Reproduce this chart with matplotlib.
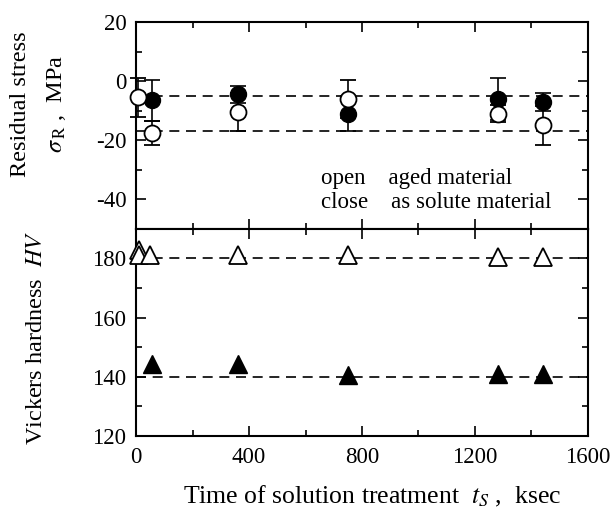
import matplotlib.pyplot as plt
from matplotlib.ticker import MultipleLocator

plt.rcParams['font.family'] = ['Liberation Serif', 'DejaVu Serif']
plt.rcParams['mathtext.fontset'] = 'stix'

# residual stress, open = aged, filled = as solute
t_open = [8, 55, 360, 750, 1280, 1440]
s_open = [-5.5, -17.5, -10.5, -6, -11, -15]
e_open = [6.5, 4, 6.5, 6.5, 3, 6.5]
t_fill = [55, 360, 750, 1280, 1440]
s_fill = [-6.5, -4.5, -11, -6, -7]
e_fill = [7, 3, 6, 7, 3]
s_lines = [-5, -17]

# hardness
t_hv_open = [10, 10, 50, 360, 750, 1280, 1440]
hv_open = [183, 181, 181, 181, 181, 180.5, 180.5]
t_hv_fill = [55, 360, 750, 1280, 1440]
hv_fill = [144.5, 144.5, 140.5, 141, 141]
hv_lines = [180, 140]

fig = plt.figure(figsize=(6.13, 5.13), dpi=100)
ax1 = fig.add_axes([0.222, 0.554, 0.737, 0.403])
ax2 = fig.add_axes([0.222, 0.150, 0.737, 0.404])

for ax in (ax1, ax2):
    ax.set_xlim(0, 1600)
    ax.xaxis.set_major_locator(MultipleLocator(400))
    ax.xaxis.set_minor_locator(MultipleLocator(200))
    ax.yaxis.set_minor_locator(MultipleLocator(10))
    ax.tick_params(which='both', direction='in', top=True, right=True,
                   width=1.2, labelsize=16.5)
    ax.tick_params(which='major', length=7)
    ax.tick_params(which='minor', length=4)
    ax.tick_params(axis='y', pad=7)
    ax.tick_params(axis='x', pad=8)
    for sp in ax.spines.values():
        sp.set_linewidth(1.5)

dash = dict(color='black', lw=1.2, ls=(0, (6, 4)), zorder=1)

ax1.set_ylim(-50, 20)
ax1.set_yticks([20, 0, -20, -40])
ax1.set_yticklabels(['20', '0', '-20', '-40'])
ax1.tick_params(axis='x', labelbottom=False)
for v in s_lines:
    ax1.axhline(v, **dash)
eb = ax1.errorbar(t_fill, s_fill, yerr=e_fill, fmt='o', color='black', mfc='black',
                  ms=11.5, capsize=6, elinewidth=1.2, capthick=1.2, zorder=3)
eb[0].set_clip_on(False)
eb = ax1.errorbar(t_open, s_open, yerr=e_open, fmt='o', color='black', mfc='white',
                  mew=1.3, ms=11.5, capsize=6, elinewidth=1.2, capthick=1.2, zorder=4)
eb[0].set_clip_on(False)
for c in eb[1]:
    c.set_clip_on(False)
ax1.text(0.41, 0.215, 'open    aged material', transform=ax1.transAxes,
         fontsize=16.5, va='baseline')
ax1.text(0.41, 0.10, 'close    as solute material', transform=ax1.transAxes,
         fontsize=16.5, va='baseline')

ax2.set_ylim(120, 190)
ax2.set_yticks([120, 140, 160, 180])
for v in hv_lines:
    ax2.axhline(v, **dash)
ax2.plot(t_hv_fill, hv_fill, '^', color='black', ms=12.5, zorder=3, clip_on=False)
ax2.plot(t_hv_open, hv_open, '^', color='black', mfc='white', mew=1.3, ms=12.5,
         zorder=4, clip_on=False)
ax2.set_xticks([0, 400, 800, 1200, 1600])

fig.text(0.033, 0.797, 'Residual stress', rotation=90, ha='center', va='center',
         fontsize=17.5)
fig.text(0.092, 0.797, r'$\sigma_{\,\rm R}$ ,  MPa', rotation=90, ha='center',
         va='center', fontsize=17.5)
fig.text(0.060, 0.341, r'Vickers hardness  $HV$', rotation=90, ha='center',
         va='center', fontsize=17.5)
fig.text(0.607, 0.033, r'Time of solution treatment  $t_S$ ,  ksec',
         ha='center', va='center', fontsize=18.5)

fig.savefig('out.png', dpi=100)
